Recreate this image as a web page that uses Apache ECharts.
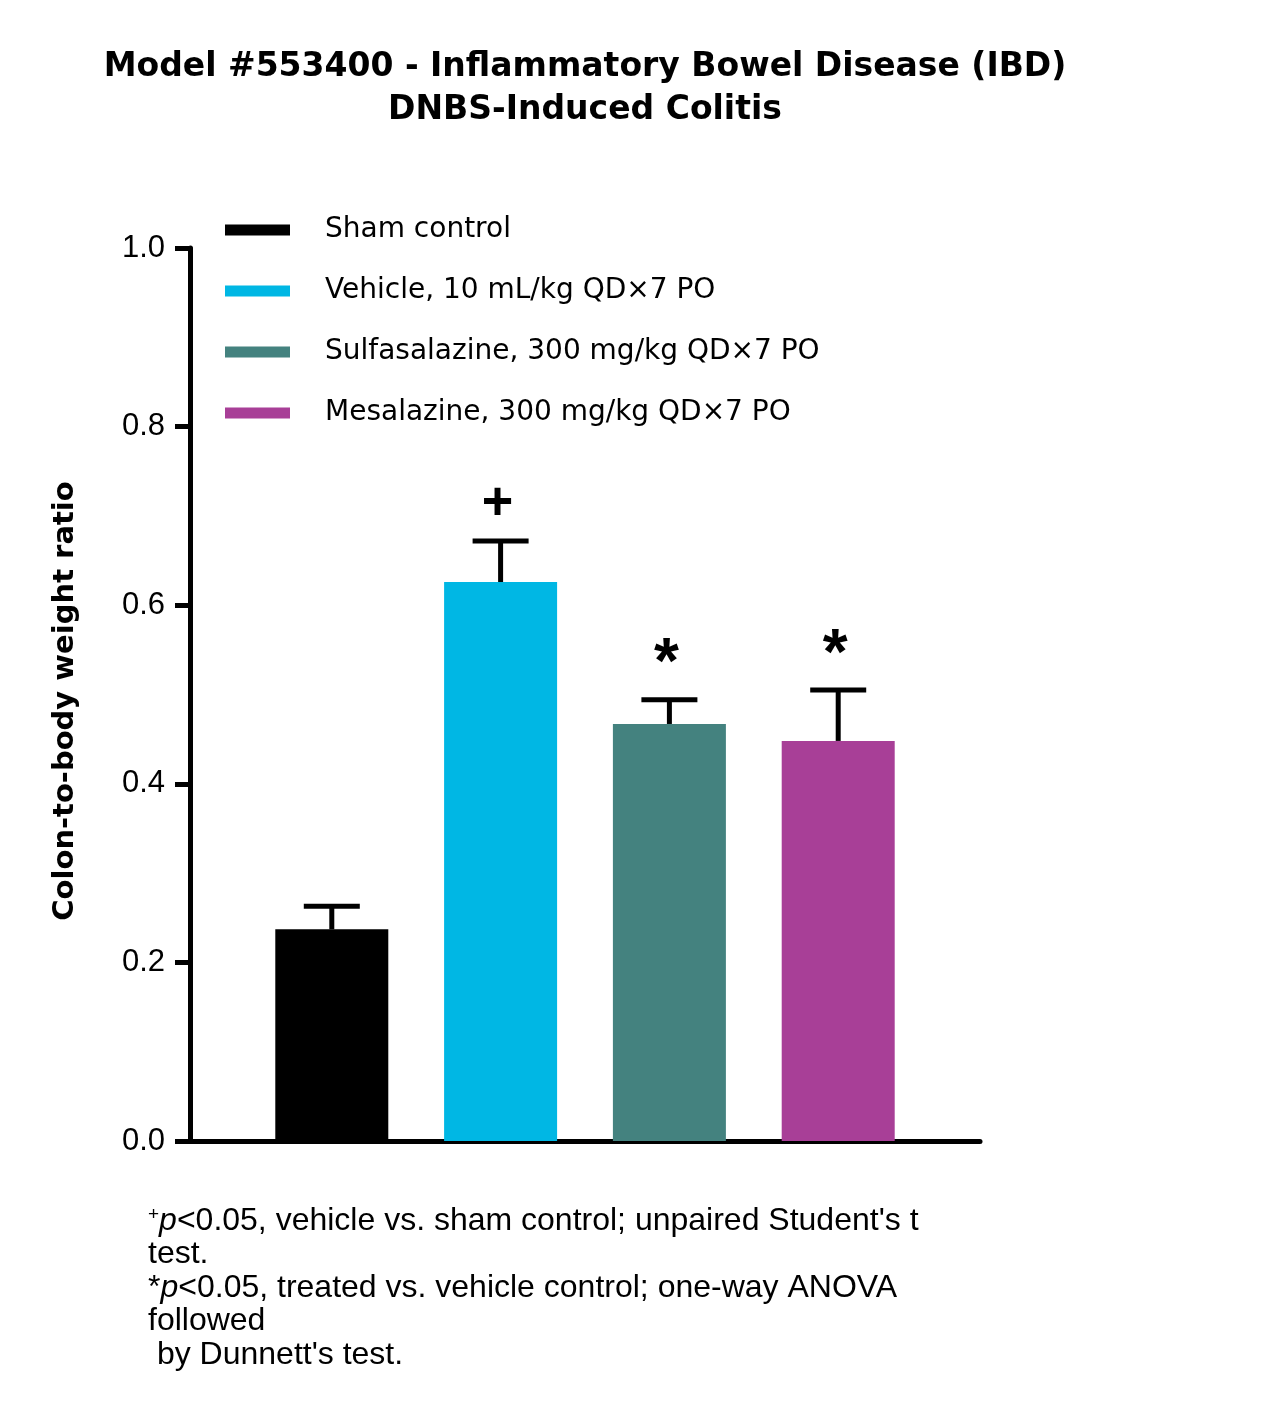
<!DOCTYPE html>
<html>
<head>
<meta charset="utf-8">
<title>DNBS-Induced Colitis</title>
<script src="https://cdn.jsdelivr.net/npm/echarts@6/dist/echarts.min.js"></script>
<style>
  html, body { margin: 0; padding: 0; background: #fff; }
  #chart { width: 1266px; height: 1413px; }
</style>
</head>
<body>
<div id="chart"></div>
<script>
    // group data
    var groups = ['Sham control', 'Vehicle, 10 mL/kg QD\u00d77 PO', 'Sulfasalazine, 300 mg/kg QD\u00d77 PO', 'Mesalazine, 300 mg/kg QD\u00d77 PO'];
    var colors = ['#000000', '#00b7e4', '#44827f', '#a83f97'];
    var means = [0.237, 0.626, 0.467, 0.448];
    var upperErr = [0.263, 0.672, 0.494, 0.505];
    var marks = ['', '+', '*', '*'];

    var notes = [
        '{sup|+}{i|p}<0.05, vehicle vs. sham control; unpaired Student\'s t',
        'test.',
        '*{i|p}<0.05, treated vs. vehicle control; one-way ANOVA',
        'followed',
        ' by Dunnett\'s test.'
    ];

    var myChart = echarts.init(document.getElementById('chart'));

    var barSeries = groups.map(function (name, i) {
        return {
            name: name,
            type: 'bar',
            barWidth: 113,
            barGap: '-100%',
            itemStyle: { color: colors[i] },
            data: [[i, means[i]]],
            z: 2
        };
    });

    // upper error bars + significance marks
    var errSeries = {
        type: 'custom',
        z: 3,
        data: means.map(function (m, i) { return [i, m, upperErr[i]]; }),
        renderItem: function (params, api) {
            var base = api.coord([api.value(0), api.value(1)]);
            var top = api.coord([api.value(0), api.value(2)]);
            var half = 28;
            var mark = marks[params.dataIndex];
            var children = [
                { type: 'line', shape: { x1: base[0], y1: base[1], x2: top[0], y2: top[1] },
                  style: { stroke: '#000', lineWidth: 5 } },
                { type: 'line', shape: { x1: top[0] - half, y1: top[1], x2: top[0] + half, y2: top[1] },
                  style: { stroke: '#000', lineWidth: 5 } }
            ];
            if (mark) {
                children.push({
                    type: 'text',
                    x: top[0] - 3,
                    y: top[1] - (mark === '+' ? 37 : 34),
                    style: {
                        text: mark,
                        fill: '#000',
                        font: mark === '+' ? 'bold 54px "Liberation Sans"' : 'bold 64px "Liberation Sans"',
                        align: 'center',
                        verticalAlign: 'middle'
                    }
                });
            }
            return { type: 'group', children: children };
        }
    };

    var noteTexts = notes.map(function (t, i) {
        return {
            type: 'text',
            x: 148,
            y: 1221 + i * 33.5,
            style: {
                text: t,
                fill: '#000',
                font: '32px "Liberation Sans"',
                verticalAlign: 'middle',
                rich: {
                    sup: { fontSize: 19, fontFamily: 'Liberation Sans', verticalAlign: 'top', padding: [0, 0, 12, 0] },
                    i: { fontStyle: 'italic', fontSize: 32, fontFamily: 'Liberation Sans' }
                }
            }
        };
    });

    var option = {
        animation: false,
        title: {
            text: 'Model #553400 - Inflammatory Bowel Disease (IBD)\nDNBS-Induced Colitis',
            left: 580,
            top: 41,
            textAlign: 'center',
            textStyle: {
                fontFamily: 'DejaVu Sans',
                fontWeight: 'bold',
                fontSize: 33,
                lineHeight: 43,
                color: '#000'
            }
        },
        legend: {
            orient: 'vertical',
            left: 225,
            top: 216,
            padding: 0,
            itemWidth: 65,
            itemHeight: 11,
            itemGap: 33,
            icon: 'rect',
            data: groups,
            textStyle: {
                fontFamily: 'DejaVu Sans',
                fontSize: 28,
                color: '#000',
                padding: [0, 0, 0, 30]
            }
        },
        grid: { left: 190, right: 286, top: 248, bottom: 272 },
        xAxis: {
            type: 'value',
            min: -0.84,
            max: 3.84,
            axisLine: { show: true, onZero: false, lineStyle: { color: '#000', width: 5 } },
            axisTick: { show: false },
            axisLabel: { show: false },
            splitLine: { show: false }
        },
        yAxis: {
            type: 'value',
            min: 0,
            max: 1,
            interval: 0.2,
            name: 'Colon-to-body weight ratio',
            nameLocation: 'middle',
            nameGap: 110,
            nameTextStyle: {
                fontFamily: 'DejaVu Sans',
                fontWeight: 'bold',
                fontSize: 29,
                color: '#000',
                padding: [0, 13, 0, 0]
            },
            axisLine: { show: true, onZero: false, lineStyle: { color: '#000', width: 5 } },
            axisTick: { show: true, length: 15, lineStyle: { color: '#000', width: 5 } },
            axisLabel: {
                margin: 25,
                fontFamily: 'Liberation Sans',
                fontSize: 31,
                color: '#000',
                formatter: function (v) { return v.toFixed(1); }
            },
            splitLine: { show: false }
        },
        graphic: noteTexts,
        series: barSeries.concat([errSeries])
    };
    myChart.setOption(option);
</script>
</body>
</html>
